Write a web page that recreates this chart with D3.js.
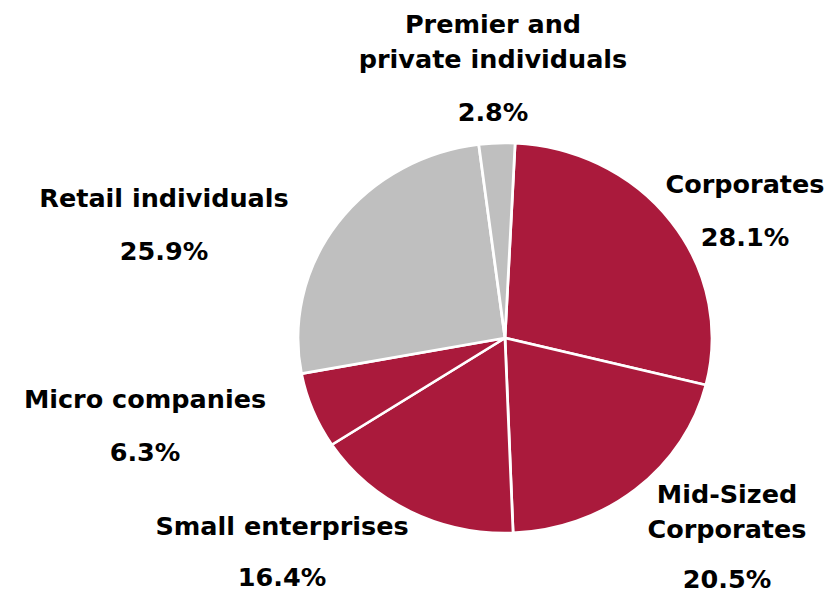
<!DOCTYPE html>
<html>
<head>
<meta charset="utf-8">
<script src="https://cdn.jsdelivr.net/npm/d3@7"></script>
<style>
  html, body { margin: 0; padding: 0; background: #ffffff; }
  svg text { font-family: "DejaVu Sans", Verdana, sans-serif; font-weight: bold; fill: #000; }
</style>
</head>
<body>
<svg id="chart" width="836" height="594"></svg>
<script>
// Loan book breakdown by customer segment (% of total)
const categories = [
  "Corporates",
  "Mid-Sized Corporates",
  "Small enterprises",
  "Micro companies",
  "Retail individuals",
  "Premier and private individuals"
];
const values = [28.1, 20.5, 16.4, 6.3, 25.9, 2.8];
const segmentGroup = ["business", "business", "business", "business", "personal", "personal"];
// Label text split over lines
const labelLines = [
  ["Corporates"],
  ["Mid-Sized", "Corporates"],
  ["Small enterprises"],
  ["Micro companies"],
  ["Retail individuals"],
  ["Premier and", "private individuals"]
];

const width = 836, height = 594;
const cx = 505, cy = 338;
const ry = 195, rx = 207;
const startOffset = 2.8 * Math.PI / 180;

const color = d3.scaleOrdinal()
  .domain(["business", "personal"])
  .range(["#aa1a3c", "#bfbfbf"]);

const data = categories.map((c, i) => ({
  category: c,
  value: values[i],
  group: segmentGroup[i],
  lines: labelLines[i]
}));

const pie = d3.pie()
  .sort(null)
  .value(d => d.value)
  .startAngle(startOffset)
  .endAngle(startOffset + 2 * Math.PI);

const arc = d3.arc().innerRadius(0).outerRadius(ry);

const svg = d3.select("#chart");

const pieG = svg.append("g")
  .attr("transform", `translate(${cx},${cy}) scale(${rx / ry},1)`);

pieG.selectAll("path")
  .data(pie(data))
  .join("path")
  .attr("d", arc)
  .attr("fill", d => color(d.data.group))
  .attr("stroke", "#ffffff")
  .attr("stroke-width", 2.6)
  .attr("stroke-linejoin", "round");

// Label anchors (centre x, first baseline y) around the pie
const labelLayout = {
  "Corporates":                       { x: 745, y: 193, gap: 53 },
  "Mid-Sized Corporates":             { x: 727, y: 503, gap: 50 },
  "Small enterprises":                { x: 282, y: 535, gap: 51 },
  "Micro companies":                  { x: 145, y: 408, gap: 53 },
  "Retail individuals":               { x: 164, y: 207, gap: 53 },
  "Premier and private individuals":  { x: 493, y: 33,  gap: 53 }
};
const lineStep = 35;
const fontSize = 25.5;
const fmt = d => d.toFixed(1) + "%";

const labels = svg.append("g")
  .selectAll("g")
  .data(data)
  .join("g")
  .attr("transform", d => `translate(${labelLayout[d.category].x},${labelLayout[d.category].y})`);

labels.each(function(d) {
  const g = d3.select(this);
  d.lines.forEach((line, j) => {
    g.append("text")
      .attr("text-anchor", "middle")
      .attr("y", j * lineStep)
      .attr("font-size", fontSize)
      .text(line);
  });
  g.append("text")
    .attr("text-anchor", "middle")
    .attr("y", (d.lines.length - 1) * lineStep + labelLayout[d.category].gap)
    .attr("font-size", fontSize)
    .text(fmt(d.value));
});
</script>
</body>
</html>
